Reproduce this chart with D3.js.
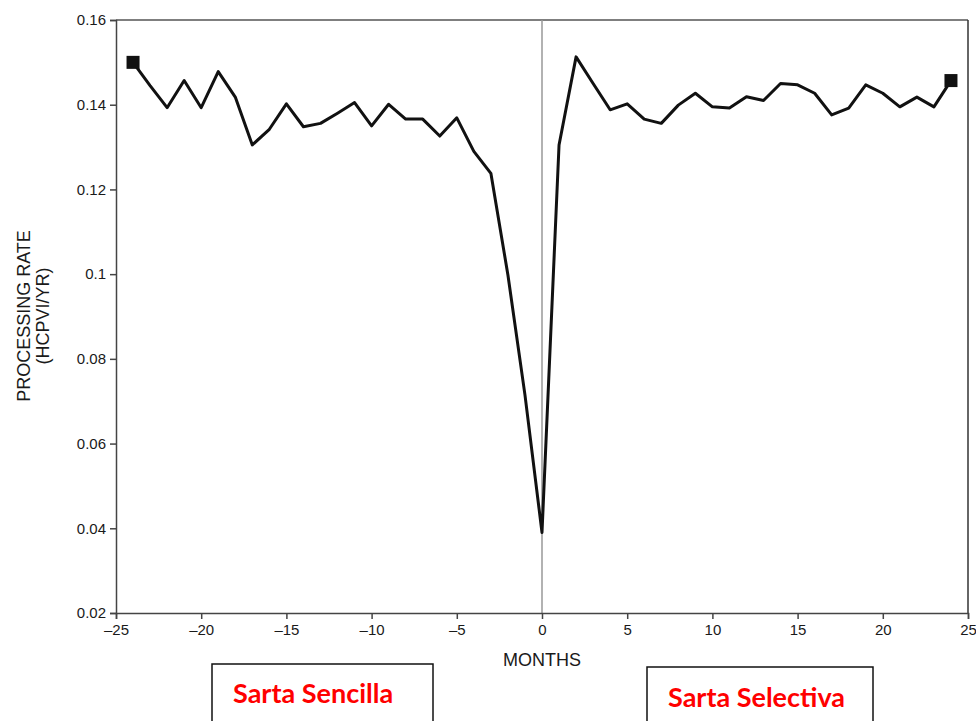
<!DOCTYPE html>
<html>
<head>
<meta charset="utf-8">
<script src="https://cdn.jsdelivr.net/npm/d3@7"></script>
<style>
  body { margin: 0; background: #fff; }
  .axis text { font-family: "Liberation Sans", Arial, sans-serif; font-size: 15px; fill: #1a1a1a; }
  .axis path, .axis line { stroke: #444; stroke-width: 1.5; }
  .axis-title { font-family: "Liberation Sans", Arial, sans-serif; font-size: 18px; fill: #1a1a1a; }
  .box-label { font-family: Lato, "Open Sans", sans-serif; font-weight: bold; font-size: 27px; fill: #f00; }
</style>
</head>
<body>
<div id="chart"></div>
<script>
// months relative to the change of completion type
var months = [-24, -23, -22, -21, -20, -19, -18, -17, -16, -15, -14, -13, -12,
  -11, -10, -9, -8, -7, -6, -5, -4, -3, -2, -1, 0,
  1, 2, 3, 4, 5, 6, 7, 8, 9, 10, 11, 12, 13, 14, 15, 16, 17, 18, 19, 20,
  21, 22, 23, 24];

// processing rate (HCPVI/YR)
var rates = [0.150, 0.1445, 0.1393, 0.1457, 0.1393, 0.1478, 0.1418, 0.1305, 0.1342, 0.1402,
  0.1348, 0.1356, 0.1380, 0.1405, 0.1350, 0.1401, 0.1366, 0.1366, 0.1326, 0.1369,
  0.1290, 0.1238, 0.0998, 0.0715, 0.0390,
  0.1305, 0.1513, 0.1450, 0.1388, 0.1402, 0.1366, 0.1356, 0.1399, 0.1427, 0.1395,
  0.1392, 0.1419, 0.1410, 0.1450, 0.1447, 0.1427, 0.1376, 0.1392, 0.1447, 0.1427,
  0.1395, 0.1418, 0.1395, 0.1457];

var xTicks = [-25, -20, -15, -10, -5, 0, 5, 10, 15, 20, 25];
var yTicks = [0.02, 0.04, 0.06, 0.08, 0.1, 0.12, 0.14, 0.16];
var yTickLabels = ["0.02", "0.04", "0.06", "0.08", "0.1", "0.12", "0.14", "0.16"];

// boxes under the chart
var boxNames = ["Sarta Sencilla", "Sarta Selectiva"];

var svgWidth = 976;
var svgHeight = 721;

var margin = { top: 20, right: 8, bottom: 108, left: 116 };
var width = svgWidth - margin.left - margin.right;
var height = svgHeight - margin.top - margin.bottom;

var svg = d3.select("#chart")
    .append("svg")
    .attr("width", svgWidth)
    .attr("height", svgHeight);

var chartGroup = svg.append("g")
    .attr("transform", `translate(${margin.left}, ${margin.top})`);

var xScale = d3.scaleLinear().domain([-25, 25]).range([0, width]);
var yScale = d3.scaleLinear().domain([0.02, 0.16]).range([height, 0]);

// frame: top and right
chartGroup.append("line")
    .attr("x1", 0).attr("x2", width).attr("y1", 0).attr("y2", 0)
    .attr("stroke", "#555").attr("stroke-width", 1.5);
chartGroup.append("line")
    .attr("x1", width).attr("x2", width).attr("y1", 0).attr("y2", height)
    .attr("stroke", "#333").attr("stroke-width", 1.5);

// vertical line at month 0
chartGroup.append("line")
    .attr("x1", xScale(0)).attr("x2", xScale(0))
    .attr("y1", 0).attr("y2", height)
    .attr("stroke", "#999").attr("stroke-width", 1.5);

var bottomAxis = d3.axisBottom(xScale)
    .tickValues(xTicks)
    .tickSizeOuter(0)
    .tickSize(6)
    .tickPadding(5)
    .tickFormat(d => d < 0 ? "\u2013" + Math.abs(d) : d);

var leftAxis = d3.axisLeft(yScale)
    .tickValues(yTicks)
    .tickSizeOuter(0)
    .tickSize(6)
    .tickPadding(4)
    .tickFormat((d, i) => yTickLabels[i]);

chartGroup.append("g")
    .attr("class", "axis")
    .attr("transform", `translate(0, ${height})`)
    .call(bottomAxis);

chartGroup.append("g")
    .attr("class", "axis")
    .call(leftAxis);

// the rate line
var data = months.map((m, i) => ({ month: m, rate: rates[i] }));

var line = d3.line()
    .x(d => xScale(d.month))
    .y(d => yScale(d.rate));

chartGroup.append("path")
    .datum(data)
    .attr("d", line)
    .attr("fill", "none")
    .attr("stroke", "#111")
    .attr("stroke-width", 3)
    .attr("stroke-linejoin", "round");

// end markers
chartGroup.selectAll("rect.marker")
    .data([data[0], data[data.length - 1]])
    .enter()
    .append("rect")
    .attr("class", "marker")
    .attr("x", d => xScale(d.month) - 6.5)
    .attr("y", d => yScale(d.rate) - 6.5)
    .attr("width", 13)
    .attr("height", 13)
    .attr("fill", "#111");

// axis titles
chartGroup.append("text")
    .attr("class", "axis-title")
    .attr("text-anchor", "middle")
    .attr("x", xScale(0))
    .attr("y", height + 53)
    .text("MONTHS");

var yTitle = svg.append("text")
    .attr("class", "axis-title")
    .attr("text-anchor", "middle")
    .attr("transform", "translate(30, 316) rotate(-90)");
yTitle.append("tspan").attr("x", 0).attr("dy", "0").text("PROCESSING RATE");
yTitle.append("tspan").attr("x", 0).attr("dy", "1.05em").text("(HCPVI/YR)");

// labelled boxes
var boxes = [
  { x: 212, y: 664, w: 221, tx: 233, ty: 703 },
  { x: 647, y: 667, w: 226, tx: 668, ty: 707 }
];

svg.selectAll("rect.box")
    .data(boxes)
    .enter()
    .append("rect")
    .attr("class", "box")
    .attr("x", d => d.x)
    .attr("y", d => d.y)
    .attr("width", d => d.w)
    .attr("height", 80)
    .attr("fill", "none")
    .attr("stroke", "#111")
    .attr("stroke-width", 1.5);

svg.selectAll("text.box-label")
    .data(boxes)
    .enter()
    .append("text")
    .attr("class", "box-label")
    .attr("x", d => d.tx)
    .attr("y", d => d.ty)
    .text((d, i) => boxNames[i]);
</script>
</body>
</html>
